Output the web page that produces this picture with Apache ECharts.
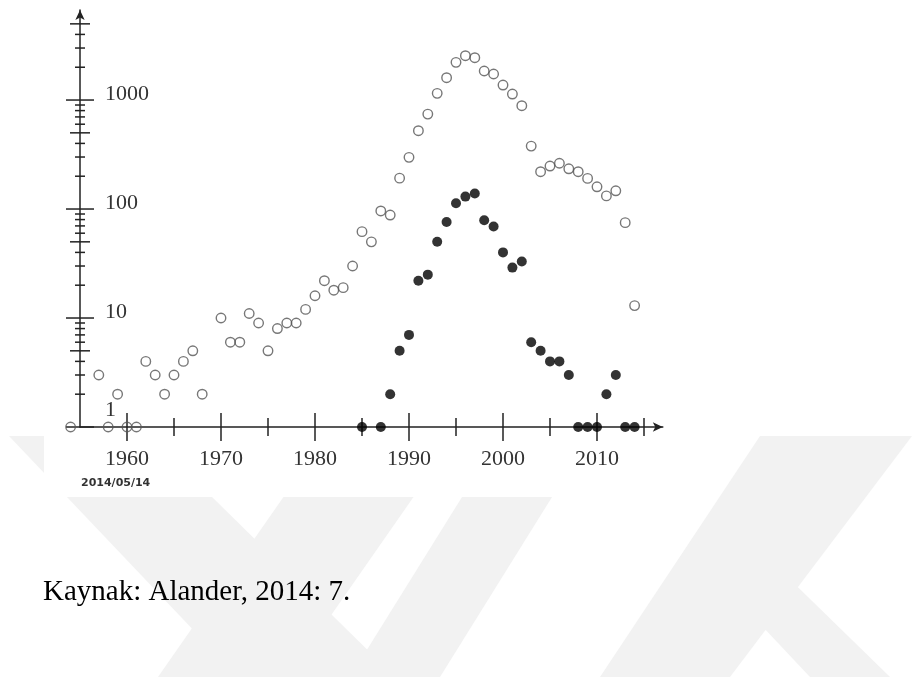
<!DOCTYPE html>
<html><head><meta charset="utf-8">
<script src="https://cdn.jsdelivr.net/npm/echarts@6/dist/echarts.min.js"></script>
<style>html,body{margin:0;padding:0;background:#fff}#c{width:912px;height:677px}</style>
</head><body><div id="c"></div>
<script>
// ---- data ----
const openYears  = [1954,1957,1958,1959,1960,1961,1962,1963,1964,1965,1966,1967,1968,1970,1971,1972,1973,1974,1975,1976,1977,1978,1979,1980,1981,1982,1983,1984,1985,1986,1987,1988,1989,1990,1991,1992,1993,1994,1995,1996,1997,1998,1999,2000,2001,2002,2003,2004,2005,2006,2007,2008,2009,2010,2011,2012,2013,2014];
const openCounts = [0,3,0,2,0,0,4,3,2,3,4,5,2,10,6,6,11,9,5,8,9,9,12,16,22,18,19,30,62,50,96,88,192,298,523,743,1152,1603,2218,2552,2445,1846,1733,1373,1135,887,378,220,248,263,234,220,191,160,132,147,75,13];
const filledYears  = [1985,1987,1988,1989,1990,1991,1992,1993,1994,1995,1996,1997,1998,1999,2000,2001,2002,2003,2004,2005,2006,2007,2008,2009,2010,2011,2012,2013,2014];
const filledCounts = [0,0,2,5,7,22,25,50,76,113,130,139,79,69,40,29,33,6,5,4,4,3,0,0,0,2,3,0,0];
const yDecadeTicks = [1,10,100,1000];
const yHalfTicks   = [5,50,500,5000];
const yMinorTicks  = [2,3,4,6,7,8,9,20,30,40,60,70,80,90,200,300,400,600,700,800,900,2000,3000,4000];
const xDecadeTicks = [1960,1970,1980,1990,2000,2010];
const xHalfTicks   = [1965,1975,1985,1995,2005,2015];
const yTickLabels  = ['1','10','100','1000'];
const xTickLabels  = ['1960','1970','1980','1990','2000','2010'];
const dateNote = '2014/05/14';
const caption = 'Kaynak: Alander, 2014: 7.';

const X_MIN = 1955, X_MAX = 2017, Y_MIN = 1, Y_MAX = 6700;

// zero counts sit on the baseline (axis at 1) of the log scale
const toPts = (xs, vs) => xs.map((x, i) => [x, Math.max(vs[i], Y_MIN)]);

const tickData = [];
yDecadeTicks.forEach(v => tickData.push([X_MIN, v, 0, 'y']));
yHalfTicks.forEach(v => tickData.push([X_MIN, v, 1, 'y']));
yMinorTicks.forEach(v => tickData.push([X_MIN, v, 2, 'y']));
xDecadeTicks.forEach(v => tickData.push([v, Y_MIN, 0, 'x']));
xHalfTicks.forEach(v => tickData.push([v, Y_MIN, 1, 'x']));

const TICK_HALF_Y = [14, 10, 5];
const TICK_HALF_X = [14, 9, 5];

const chart = echarts.init(document.getElementById('c'), null, {renderer: 'canvas'});
const serif = "'Liberation Serif','Times New Roman',serif";

const wm = '#f2f2f2';
chart.setOption({
  animation: false,
  backgroundColor: '#fff',
  grid: {left: 80, top: 10, width: 582.8, height: 417, containLabel: false},
  xAxis: {
    type: 'value', min: X_MIN, max: X_MAX, interval: 5,
    axisLine: {onZero: false, symbol: ['none', 'arrow'], symbolSize: [7, 10], lineStyle: {color: '#222', width: 1.5}},
    axisTick: {show: false}, splitLine: {show: false},
    axisLabel: {
      margin: 21, color: '#333', fontFamily: serif, fontSize: 22,
      formatter: v => { const i = xDecadeTicks.indexOf(Math.round(v)); return i >= 0 ? xTickLabels[i] : ''; }
    }
  },
  yAxis: {
    type: 'log', logBase: 10, min: Y_MIN, max: Y_MAX,
    axisLine: {onZero: false, symbol: ['none', 'arrow'], symbolSize: [7, 10], lineStyle: {color: '#222', width: 1.5}},
    axisTick: {show: false}, splitLine: {show: false}, minorTick: {show: false},
    axisLabel: {
      inside: true, margin: 25, color: '#333', fontFamily: serif, fontSize: 22,
      formatter: v => {
        const i = yDecadeTicks.indexOf(Math.round(v));
        if (i < 0) return '';
        return i === 0 ? '{one|' + yTickLabels[i] + '}' : '{d|' + yTickLabels[i] + '}';
      },
      rich: {
        d: {fontFamily: serif, fontSize: 22, color: '#333', padding: [0, 0, 12, 0]},
        one: {fontFamily: serif, fontSize: 22, color: '#333', padding: [0, 0, 34, 0]}
      }
    }
  },
  graphic: [
    // faint watermark
    {type: 'polygon', z: -3, shape: {points: [[9,436],[150,436],[395,677],[238,677]]}, style: {fill: wm}},
    {type: 'polygon', z: -3, shape: {points: [[326,436],[456,436],[288,677],[158,677]]}, style: {fill: wm}},
    {type: 'polygon', z: -3, shape: {points: [[500,436],[590,436],[440,677],[350,677]]}, style: {fill: wm}},
    {type: 'polygon', z: -3, shape: {points: [[760,436],[912,436],[730,677],[600,677]]}, style: {fill: wm}},
    {type: 'polygon', z: -3, shape: {points: [[700,560],[770,560],[890,677],[810,677]]}, style: {fill: wm}},
    {type: 'rect', z: -2, shape: {x: 44, y: 0, width: 639, height: 497}, style: {fill: '#fff'}},
    {type: 'text', z: 10, left: 81, top: 478, style: {text: dateNote, font: "bold 11px 'DejaVu Sans'", fill: '#333'}},
    {type: 'text', z: 10, left: 43, top: 578, style: {text: caption, font: "29px 'Liberation Serif'", fill: '#000'}}
  ],
  series: [
    {
      type: 'custom', name: 'ticks', silent: true, clip: false, z: 3,
      data: tickData,
      renderItem: (params, api) => {
        const p = api.coord([api.value(0), api.value(1)]);
        const k = api.value(2);
        const isY = tickData[params.dataIndex][3] === 'y';
        const shape = isY
          ? {x1: p[0] - TICK_HALF_Y[k], y1: p[1], x2: p[0] + TICK_HALF_Y[k], y2: p[1]}
          : {x1: p[0], y1: p[1] - TICK_HALF_X[k], x2: p[0], y2: p[1] + TICK_HALF_X[k]};
        return {type: 'line', shape, style: {stroke: '#222', lineWidth: 1.5}};
      }
    },
    {
      type: 'scatter', name: 'open', clip: false, z: 4,
      symbol: 'circle', symbolSize: 9.5,
      itemStyle: {color: 'rgba(0,0,0,0)', borderColor: '#555', borderWidth: 1.4},
      data: toPts(openYears, openCounts)
    },
    {
      type: 'scatter', name: 'filled', clip: false, z: 5,
      symbol: 'circle', symbolSize: 10,
      itemStyle: {color: '#000'},
      data: toPts(filledYears, filledCounts)
    }
  ]
});
</script>
</body></html>
